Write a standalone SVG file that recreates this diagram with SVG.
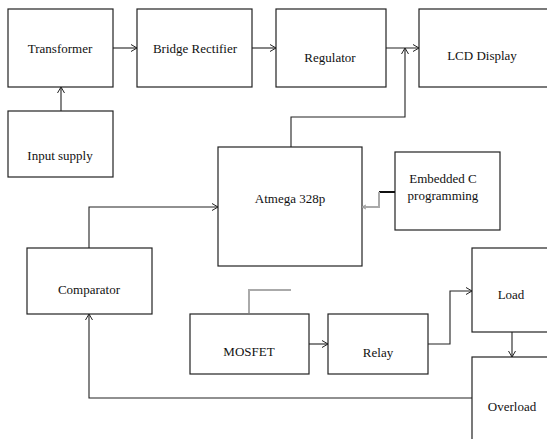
<svg xmlns="http://www.w3.org/2000/svg" width="547" height="439" viewBox="0 0 547 439">
<defs>
<marker id="arr" markerWidth="8" markerHeight="8" refX="7" refY="4" orient="auto" markerUnits="userSpaceOnUse">
<path d="M1,0.5 L7,4 L1,7.5" fill="none" stroke="#222" stroke-width="1"/>
</marker>
<marker id="garr" markerWidth="6" markerHeight="6" refX="5" refY="3" orient="auto" markerUnits="userSpaceOnUse">
<path d="M1,1 L5,3 L1,5" fill="none" stroke="#999" stroke-width="1"/>
</marker>
</defs>
<style>
.box{fill:#fff;stroke:#222;stroke-width:1.2}
.c{fill:none;stroke:#222;stroke-width:1.1}
.g{fill:none;stroke:#aaa;stroke-width:2}
</style>
<rect width="547" height="439" fill="#fff"/>
<g font-family="Liberation Serif, serif" font-size="13" fill="#111" text-anchor="middle">
<g id="transformer"><rect class="box" x="8" y="9" width="105" height="78"/><text x="60" y="53">Transformer</text></g>
<g id="bridge"><rect class="box" x="137" y="9" width="115" height="78"/><text x="195" y="53">Bridge Rectifier</text></g>
<g id="regulator"><rect class="box" x="276" y="9" width="110" height="78"/><text x="330" y="62">Regulator</text></g>
<g id="lcd"><rect class="box" x="419" y="9" width="140" height="78"/><text x="482" y="60">LCD Display</text></g>
<g id="input"><rect class="box" x="8" y="111" width="105" height="66"/><text x="60" y="160">Input supply</text></g>
<g id="atmega"><rect class="box" x="218" y="147" width="144" height="119"/><text x="290" y="203">Atmega 328p</text></g>
<g id="embedded"><rect class="box" x="395" y="152" width="105" height="78"/><text x="443" y="183">Embedded C</text><text x="443" y="200">programming</text></g>
<g id="comparator"><rect class="box" x="27" y="248" width="125" height="66"/><text x="89" y="294">Comparator</text></g>
<g id="load"><rect class="box" x="472" y="248" width="90" height="84"/><text x="511" y="299">Load</text></g>
<g id="mosfet"><rect class="box" x="190" y="314" width="119" height="60"/><text x="249" y="356">MOSFET</text></g>
<g id="relay"><rect class="box" x="328" y="314" width="100" height="60"/><text x="378" y="357">Relay</text></g>
<g id="overload"><rect class="box" x="472" y="357" width="90" height="90"/><text x="512" y="411">Overload</text></g>
</g>
<g id="connectors">
<line class="c" x1="113" y1="48" x2="137" y2="48" marker-end="url(#arr)"/>
<line class="c" x1="252" y1="48" x2="276" y2="48" marker-end="url(#arr)"/>
<line class="c" x1="386" y1="48" x2="419" y2="48" marker-end="url(#arr)"/>
<line class="c" x1="61" y1="111" x2="61" y2="87" marker-end="url(#arr)"/>
<polyline class="c" points="291,147 291,117 405,117 405,48" marker-end="url(#arr)"/>
<polyline class="c" points="89,248 89,207 218,207" marker-end="url(#arr)"/>
<line x1="395" y1="192" x2="379" y2="192" stroke="#111" stroke-width="2"/>
<polyline class="g" points="379,192 379,207 362,207" marker-end="url(#garr)"/>
<polyline class="g" points="291,290 249,290 249,313"/>
<line class="c" x1="309" y1="344" x2="328" y2="344" marker-end="url(#arr)"/>
<polyline class="c" points="428,344 450,344 450,291 472,291" marker-end="url(#arr)"/>
<line class="c" x1="512" y1="332" x2="512" y2="357" marker-end="url(#arr)"/>
<polyline class="c" points="472,398 89,398 89,314" marker-end="url(#arr)"/>
</g>
</svg>
